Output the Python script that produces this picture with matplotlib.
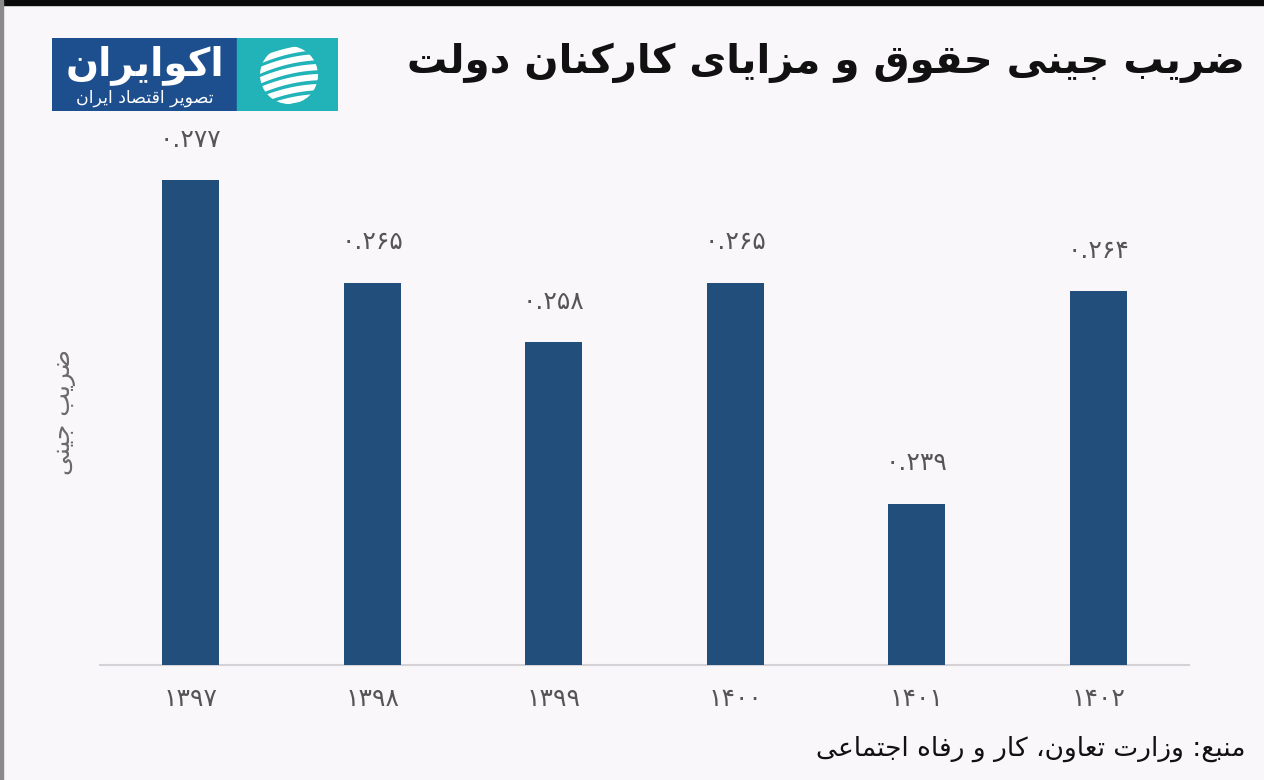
import matplotlib
matplotlib.use("Agg")
import matplotlib.pyplot as plt
from matplotlib.patches import Rectangle, Circle
import numpy as np

# ---------------- data ----------------
years = ["1397", "1398", "1399", "1400", "1401", "1402"]
gini = [0.277, 0.265, 0.258, 0.265, 0.239, 0.264]
title_text = "ضریب جینی حقوق و مزایای کارکنان دولت"
ylabel_text = "ضریب جینی"
source_text = "منبع: وزارت تعاون، کار و رفاه اجتماعی"
logo_main = "اکوایران"
logo_sub = "تصویر اقتصاد ایران"

# ---------------- minimal Arabic/Persian shaping ----------------
# (isolated, final, initial, medial); None => right-joining letter
FORMS = {
    '\u0627': ('\uFE8D', '\uFE8E', None, None),
    '\u0622': ('\uFE81', '\uFE82', None, None),
    '\u0628': ('\uFE8F', '\uFE90', '\uFE91', '\uFE92'),
    '\u067E': ('\uFB56', '\uFB57', '\uFB58', '\uFB59'),
    '\u062A': ('\uFE95', '\uFE96', '\uFE97', '\uFE98'),
    '\u062B': ('\uFE99', '\uFE9A', '\uFE9B', '\uFE9C'),
    '\u062C': ('\uFE9D', '\uFE9E', '\uFE9F', '\uFEA0'),
    '\u0686': ('\uFB7A', '\uFB7B', '\uFB7C', '\uFB7D'),
    '\u062D': ('\uFEA1', '\uFEA2', '\uFEA3', '\uFEA4'),
    '\u062E': ('\uFEA5', '\uFEA6', '\uFEA7', '\uFEA8'),
    '\u062F': ('\uFEA9', '\uFEAA', None, None),
    '\u0630': ('\uFEAB', '\uFEAC', None, None),
    '\u0631': ('\uFEAD', '\uFEAE', None, None),
    '\u0632': ('\uFEAF', '\uFEB0', None, None),
    '\u0698': ('\uFB8A', '\uFB8B', None, None),
    '\u0633': ('\uFEB1', '\uFEB2', '\uFEB3', '\uFEB4'),
    '\u0634': ('\uFEB5', '\uFEB6', '\uFEB7', '\uFEB8'),
    '\u0635': ('\uFEB9', '\uFEBA', '\uFEBB', '\uFEBC'),
    '\u0636': ('\uFEBD', '\uFEBE', '\uFEBF', '\uFEC0'),
    '\u0637': ('\uFEC1', '\uFEC2', '\uFEC3', '\uFEC4'),
    '\u0638': ('\uFEC5', '\uFEC6', '\uFEC7', '\uFEC8'),
    '\u0639': ('\uFEC9', '\uFECA', '\uFECB', '\uFECC'),
    '\u063A': ('\uFECD', '\uFECE', '\uFECF', '\uFED0'),
    '\u0641': ('\uFED1', '\uFED2', '\uFED3', '\uFED4'),
    '\u0642': ('\uFED5', '\uFED6', '\uFED7', '\uFED8'),
    '\u06A9': ('\uFB8E', '\uFB8F', '\uFEDB', '\uFEDC'),
    '\u06AF': ('\uFB92', '\uFB93', '\uFB94', '\uFB95'),
    '\u0644': ('\uFEDD', '\uFEDE', '\uFEDF', '\uFEE0'),
    '\u0645': ('\uFEE1', '\uFEE2', '\uFEE3', '\uFEE4'),
    '\u0646': ('\uFEE5', '\uFEE6', '\uFEE7', '\uFEE8'),
    '\u0648': ('\uFEED', '\uFEEE', None, None),
    '\u0647': ('\uFEE9', '\uFEEA', '\uFEEB', '\uFEEC'),
    '\u06CC': ('\uFEEF', '\uFEF0', '\uFEF3', '\uFEF4'),
    '\u064A': ('\uFEF1', '\uFEF2', '\uFEF3', '\uFEF4'),
}


def shape(text):
    out = []
    n = len(text)
    for i, ch in enumerate(text):
        if ch not in FORMS:
            out.append(ch)
            continue
        iso, fin, ini, med = FORMS[ch]
        prev = text[i - 1] if i > 0 else None
        nxt = text[i + 1] if i < n - 1 else None
        pj = prev in FORMS and FORMS[prev][2] is not None
        nj = nxt in FORMS and ini is not None
        if pj and nj:
            out.append(med)
        elif pj:
            out.append(fin)
        elif nj:
            out.append(ini)
        else:
            out.append(iso)
    return "".join(out)[::-1]


FA_DIGITS = str.maketrans("0123456789", "۰۱۲۳۴۵۶۷۸۹")


def fa_num(s):
    return s.translate(FA_DIGITS)


# ---------------- figure ----------------
W, H = 1264, 780
BG = "#faf7fa"
plt.rcParams['font.family'] = ['DejaVu Sans']
fig = plt.figure(figsize=(W / 100, H / 100), dpi=100, facecolor=BG)

ax = fig.add_axes([100 / W, 1 - 665 / H, (1189 - 100) / W, (665 - 129.5) / H])
ax.set_facecolor(BG)
x = np.arange(len(years))
ax.bar(x, gini, width=0.315, color="#224e7c", zorder=3)
ax.set_xlim(-0.5, len(years) - 0.5)
ax.set_ylim(0.22, 0.283)
for s in ["top", "right", "left"]:
    ax.spines[s].set_visible(False)
ax.spines["bottom"].set_color("#d4d2d6")
ax.spines["bottom"].set_linewidth(1.5)
ax.set_yticks([])
ax.set_xticks(x)
ax.set_xticklabels([fa_num(y) for y in years], fontsize=18, color="#555555")
ax.tick_params(axis="x", length=0, pad=16)

for xi, v in zip(x, gini):
    ax.annotate(fa_num(f"{v:.3f}"), (xi, v), xytext=(0, 29), textcoords="offset points",
                ha="center", va="center", fontsize=18, color="#555555")

# y label
fig.text(64 / W, 1 - 412 / H, shape(ylabel_text), rotation=90, ha="center", va="center",
         fontsize=18, color="#6a6a6a")

# title
fig.text(1245 / W, 1 - 63 / H, shape(title_text), ha="right", va="center",
         fontsize=29, fontweight="bold", color="#111111")

# source
fig.text(1245 / W, 1 - 749 / H, shape(source_text), ha="right", va="center",
         fontsize=19, color="#111111")

# top black border and left grey edge
fig.patches.append(Rectangle((0, 1 - 5 / H), 1, 5 / H, transform=fig.transFigure,
                             color="#0a0a0a", zorder=5))
fig.patches.append(Rectangle((0, 0), 3 / W, 1, transform=fig.transFigure,
                             color="#8a8a8a", zorder=5))

# logo
lax = fig.add_axes([52 / W, 1 - 111 / H, 286 / W, 73 / H])
lax.set_xlim(0, 286)
lax.set_ylim(0, 73)
lax.axis("off")
lax.add_patch(Rectangle((0, 0), 185, 73, color="#1d4f8e"))
lax.add_patch(Rectangle((185, 0), 101, 73, color="#22b3b9"))
lax.text(93, 46, shape(logo_main), ha="center", va="center", fontsize=28,
         fontweight="bold", color="white")
lax.text(93, 13, shape(logo_sub), ha="center", va="center", fontsize=12.5, color="white")
cx, cy, r = 237, 36, 29
clip = Circle((cx, cy), r, transform=lax.transData)
for k in range(-3, 4):
    t = np.linspace(-1, 1, 40)
    xs = cx + t * r * 1.2
    ys = cy + k * 10 + 8 * t + 4 * (1 - t ** 2)
    ln, = lax.plot(xs, ys, color="white", lw=4.5, solid_capstyle="round")
    ln.set_clip_path(clip)

fig.savefig("out.png", dpi=100, facecolor=BG)
